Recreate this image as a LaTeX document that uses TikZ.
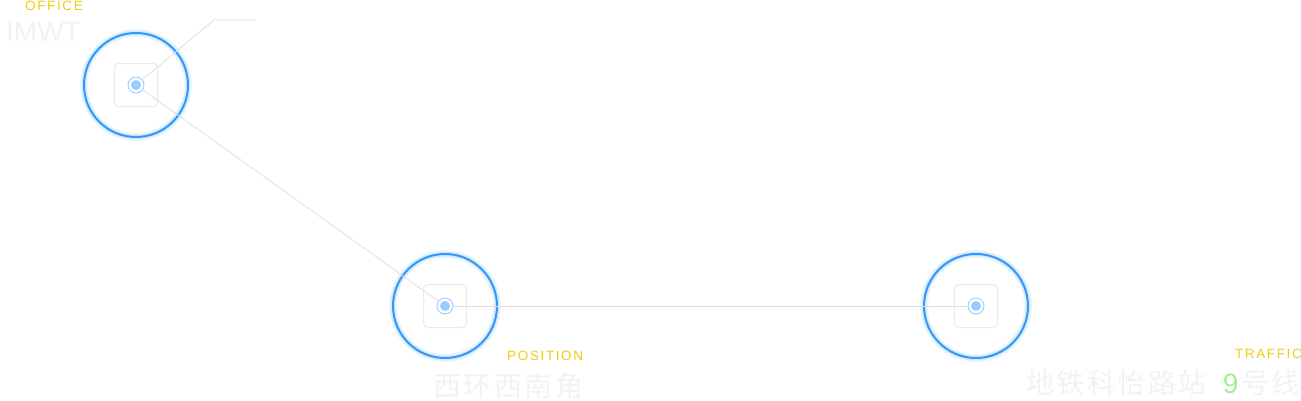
\documentclass[tikz,border=0pt]{standalone}
\usepackage{fontspec}
\setmainfont{Liberation Sans}
\setsansfont{Liberation Sans}
\newfontfamily\cjk{Noto Sans CJK SC}[LetterSpace=9]
\newfontfamily\tagfont{Liberation Sans}[LetterSpace=12]
\usetikzlibrary{positioning}
\definecolor{mapblue}{HTML}{3399F5}
\definecolor{dotblue}{HTML}{99CCFF}
\definecolor{tagyellow}{HTML}{F0CC10}
\definecolor{faintgray}{HTML}{F2F2F2}
\definecolor{linegray}{HTML}{DEDEDE}
\definecolor{numgreen}{HTML}{A0F090}

\begin{document}
\begin{tikzpicture}[x=1pt, y=-1pt, font=\sffamily,
    spot/.style={circle, draw=mapblue, line width=2pt, minimum size=104pt, inner sep=0pt,
      preaction={draw=mapblue, line width=8pt, opacity=0.08},
      preaction={draw=mapblue, line width=5pt, opacity=0.15}},
    tile/.style={draw=black!8, line width=1pt, rounded corners=4pt, minimum size=43pt, inner sep=0pt},
    pin/.style={circle, draw=dotblue, line width=0.9pt, minimum size=16pt, inner sep=0pt,
      path picture={\fill[dotblue] (path picture bounding box.center) circle (5pt);}},
    tag/.style={text=tagyellow, inner sep=0pt, font=\tagfont\fontsize{13.5}{15}\selectfont},
    place/.style={text=faintgray, inner sep=0pt, font=\fontsize{28}{32}\selectfont},
    link/.style={draw=linegray, line width=0.8pt}]
        \useasboundingbox (0,0) rectangle (1301,400);
        \node[spot] (office) at (136,85) {};
        \node[tile] (officetile) at (office) {};
        \node[pin] (officepin) at (office) {};
        \node[spot] (position) at (445,306) {};
        \node[tile] (positiontile) at (position) {};
        \node[pin] (positionpin) at (position) {};
        \node[spot] (traffic) at (976,306) {};
        \node[tile] (traffictile) at (traffic) {};
        \node[pin] (trafficpin) at (traffic) {};
        \coordinate (bend) at (214,20);
        \coordinate (tail) at (256,20);
        \draw[link] (officepin) -- (bend) -- (tail);
        \draw[link] (officepin) -- (positionpin);
        \draw[link] (positionpin) -- (trafficpin);
        \node[tag, anchor=east] (officetag) at (83,6) {OFFICE};
        \node[place, anchor=east] (officename) at (81,32) {IMWT};
        \node[tag, anchor=west] (positiontag) at (507,356) {POSITION};
        \node[place, anchor=west] (positionname) at (433,386) {\cjk 西环西南角};
        \node[tag, anchor=east] (traffictag) at (1302,354) {TRAFFIC};
        \node[place, anchor=west] (trafficname) at (1026,383) {\cjk 地铁科怡路站\hspace{16pt}\textcolor{numgreen}{\sffamily 9}\hspace{3pt}号线};
      \end{tikzpicture}
\end{document}
